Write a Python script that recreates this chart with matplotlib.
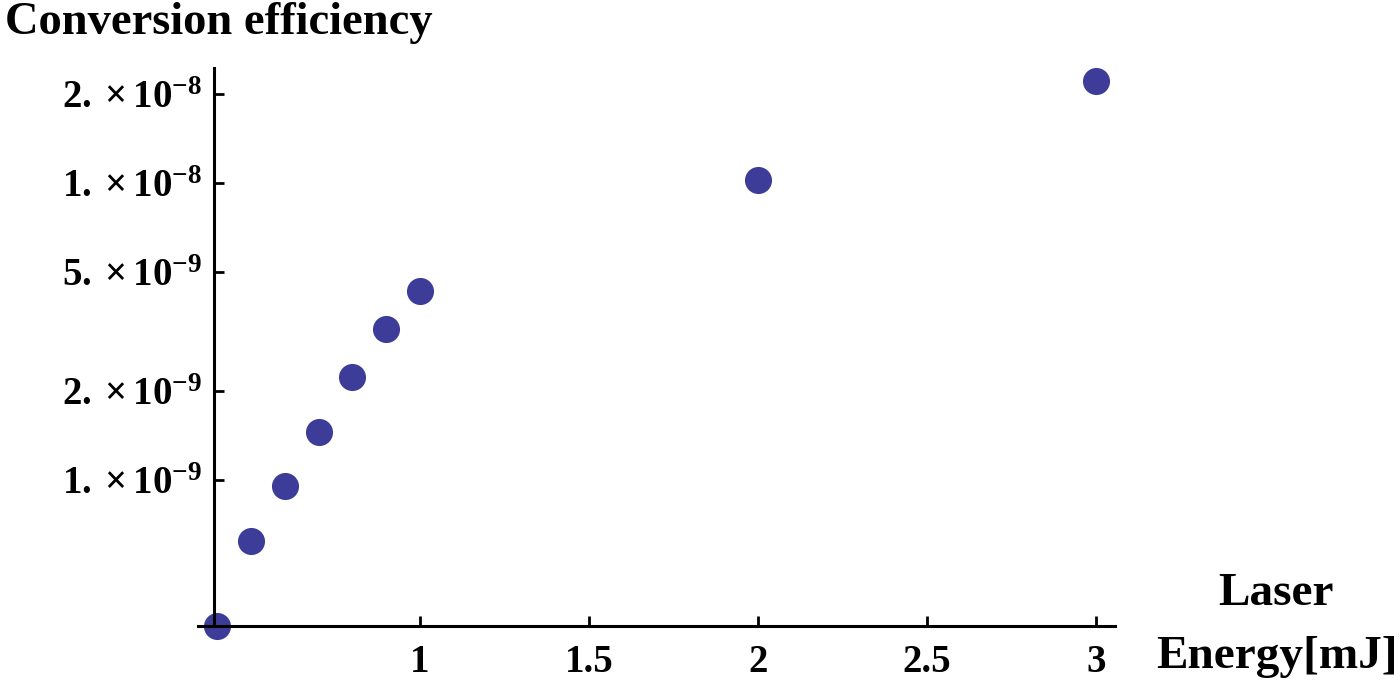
import numpy as np
import matplotlib
matplotlib.use("Agg")
import matplotlib.pyplot as plt

plt.rcParams["font.family"] = ["Liberation Serif", "DejaVu Serif"]
plt.rcParams["font.weight"] = "bold"
plt.rcParams["mathtext.fontset"] = "custom"
plt.rcParams["mathtext.rm"] = "Liberation Serif:bold"
plt.rcParams["mathtext.it"] = "Liberation Serif:bold"
plt.rcParams["mathtext.bf"] = "Liberation Serif:bold"

# laser energy (mJ) vs conversion efficiency
energy = [0.4, 0.5, 0.6, 0.7, 0.8, 0.9, 1.0, 2.0, 3.0]
efficiency = [3.22e-10, 6.24e-10, 9.55e-10, 1.45e-9, 2.22e-9,
              3.22e-9, 4.33e-9, 1.02e-8, 2.2e-8]

xticks = [1, 1.5, 2, 2.5, 3]
xticklabels = ["1", "1.5", "2", "2.5", "3"]
yticks = [1e-9, 2e-9, 5e-9, 1e-8, 2e-8]
yticklabels = [r"$\mathrm{1.}\times\mathrm{10}^{-9}$",
               r"$\mathrm{2.}\times\mathrm{10}^{-9}$",
               r"$\mathrm{5.}\times\mathrm{10}^{-9}$",
               r"$\mathrm{1.}\times\mathrm{10}^{-8}$",
               r"$\mathrm{2.}\times\mathrm{10}^{-8}$"]

fig = plt.figure(figsize=(14, 6.87), dpi=100)
ax = fig.add_axes([198 / 1400, 61 / 687, 917 / 1400, 558 / 687])

ax.plot(energy, efficiency, "o", color=(0.24, 0.24, 0.6), markersize=19.5,
        markeredgewidth=0, zorder=1, clip_on=False)

ax.set_yscale("log")
ax.set_xlim(0.343, 3.056)
ax.set_ylim(3.22e-10, 2.44e-8)

ax.spines["top"].set_visible(False)
ax.spines["right"].set_visible(False)
ax.spines["left"].set_position(("data", 0.39))
for s in ("left", "bottom"):
    ax.spines[s].set_linewidth(2.2)
    ax.spines[s].set_zorder(3)

ax.set_xticks(xticks)
ax.set_xticklabels(xticklabels)
ax.set_yticks(yticks)
ax.set_yticklabels(yticklabels)
ax.yaxis.set_minor_locator(matplotlib.ticker.NullLocator())
ax.tick_params(axis="both", direction="in", length=7, width=2.0,
               labelsize=28, pad=8.5)
ax.tick_params(axis="x", pad=13)

fig.text(5 / 1400, 1 - 2 / 687, "Conversion efficiency", fontsize=33.5,
         fontweight="bold", ha="left", va="top")
fig.text(1276 / 1400, 1 - 594 / 687, "Laser", fontsize=34,
         fontweight="bold", ha="center", va="center")
fig.text(1277 / 1400, 1 - 657 / 687, "Energy[mJ]", fontsize=34,
         fontweight="bold", ha="center", va="center")

fig.savefig("out.png", dpi=100)
